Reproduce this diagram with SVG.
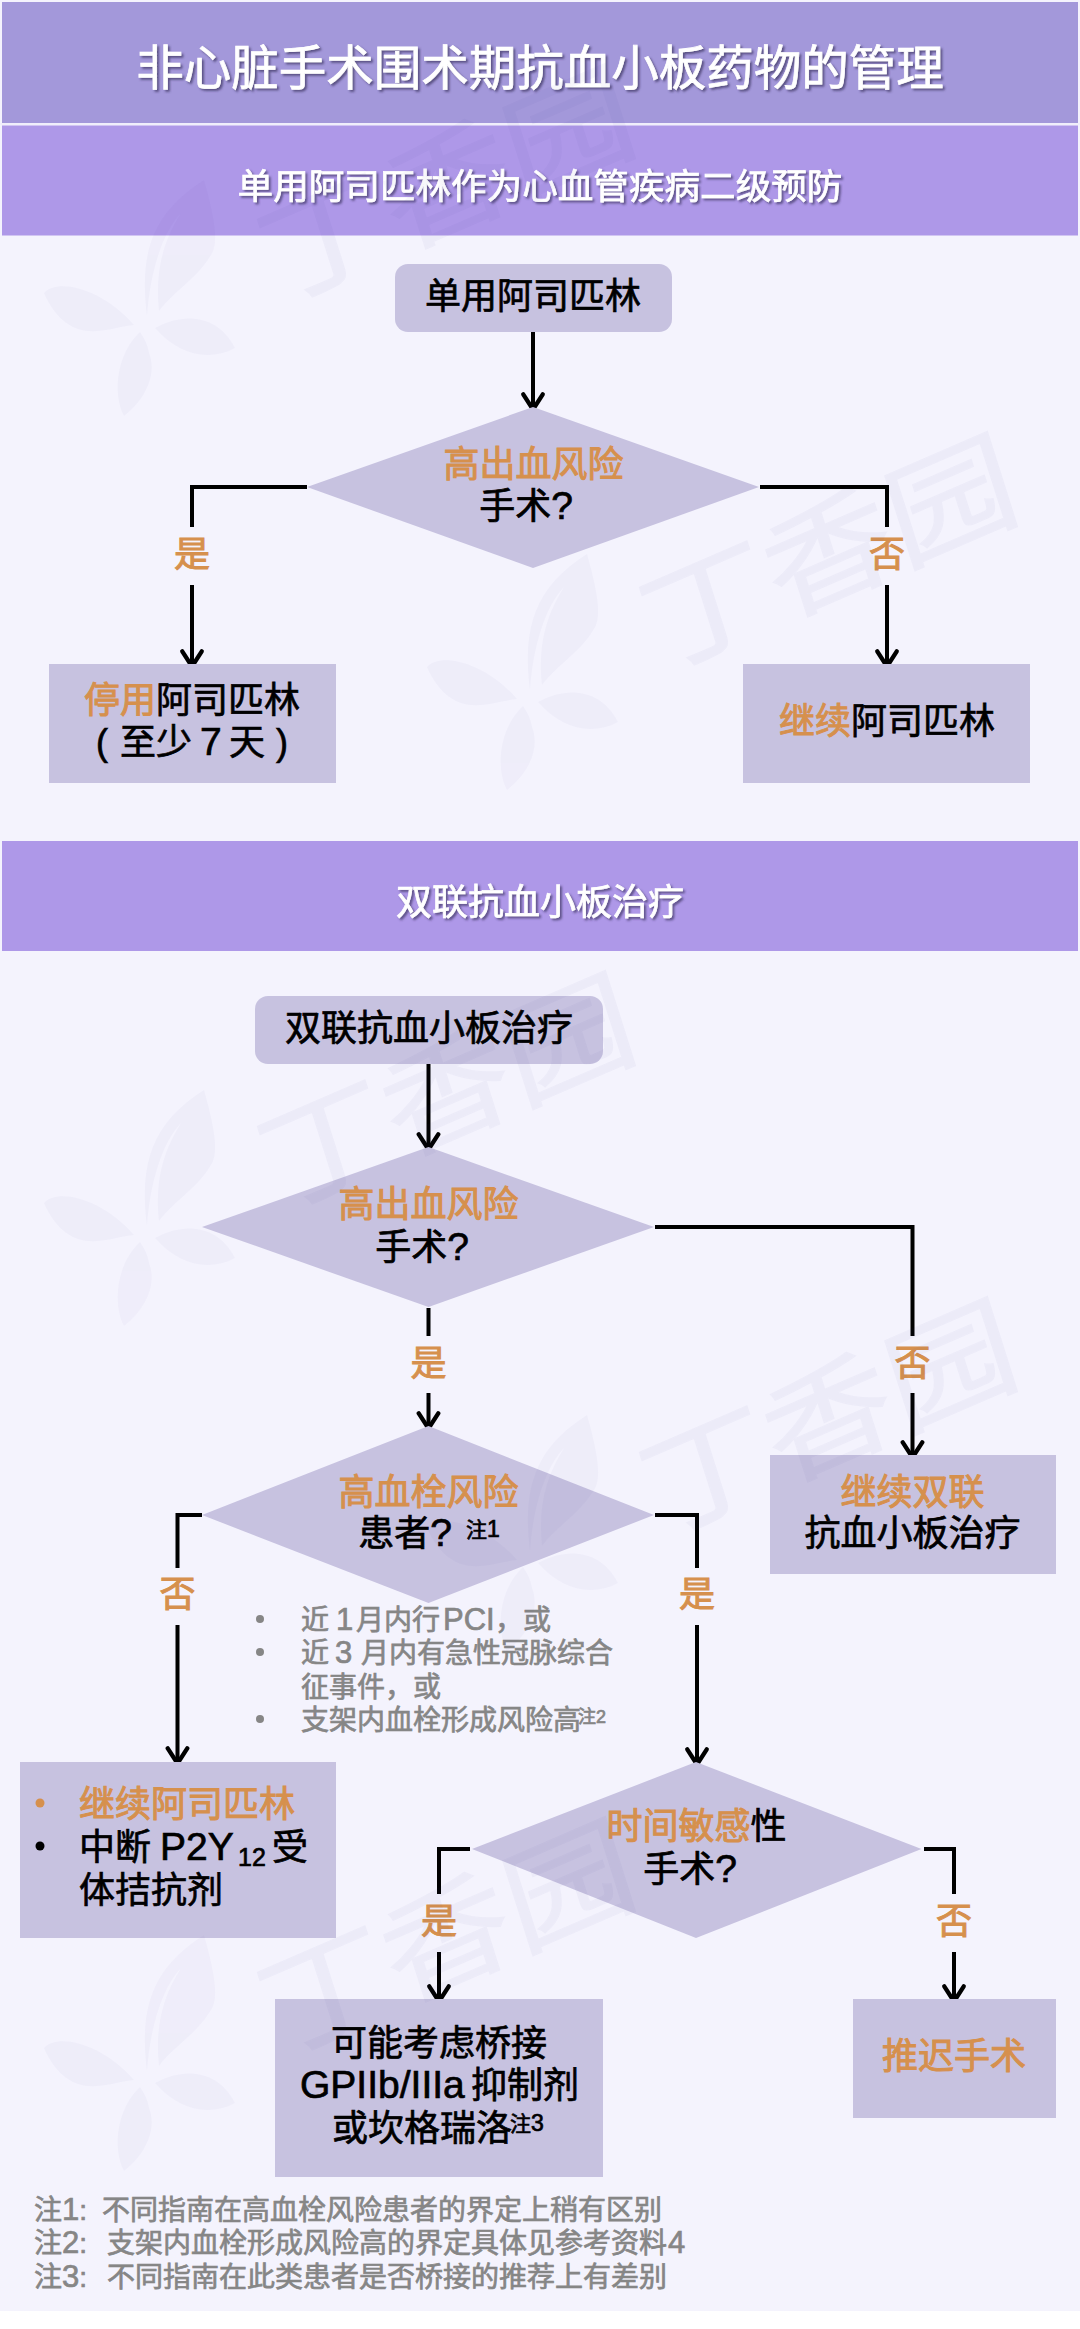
<svg xmlns="http://www.w3.org/2000/svg" width="1080" height="2329" viewBox="0 0 1080 2329">
<style>
text{font-family:"Liberation Sans","Noto Sans CJK SC",sans-serif;font-size:36px;fill:#000;stroke:#000;stroke-width:.7px}
.c{text-anchor:middle}
.o,.o tspan{fill:#d6904d;stroke:#d6904d;stroke-width:1px}
.w{fill:#fff;stroke:#fff;filter:url(#sh)}
.g{fill:#868686;stroke:#868686;font-size:28px}
.n{fill:#c7c2e0}
.s{font-size:21px}
.lat{font-size:39px}
.gl{font-size:31px}
.cn{fill:none;stroke:#000;stroke-width:4}
.ar{marker-end:url(#ah)}
.wm{fill:#3a3590;opacity:.028}
text.wmt{font-family:"Noto Sans CJK SC",sans-serif;font-size:133px;fill:#3a3590;stroke:#3a3590;stroke-width:1.500px;opacity:.035}
</style>
<defs>
<filter id="sh" x="-5%" y="-20%" width="110%" height="150%"><feDropShadow dx="2" dy="2" stdDeviation="1.2" flood-color="#3c3460" flood-opacity=".7"/></filter>
<marker id="ah" markerUnits="userSpaceOnUse" markerWidth="26" markerHeight="26" viewBox="0 0 24 24" refX="15.7" refY="12" orient="auto"><path d="M4,3 L18,12 L4,21" fill="none" stroke="#000" stroke-width="4" stroke-linecap="round"/></marker>
<g id="flower">
<path d="M0,-7 C-8,-70 5,-110 57,-143 C72,-90 70,-75 62,-65 C50,-45 25,-30 12,-12 C8,-50 15,-80 34,-110 C15,-90 3,-50 0,-7Z"/>
<path d="M-13,2 C-45,-35 -90,-45 -103,-30 C-90,0 -70,10 -50,8 C-35,7 -25,3 -13,2Z"/>
<path d="M8,5 C35,-10 70,-10 88,25 C60,40 30,30 8,5Z"/>
<path d="M-7,9 C-30,30 -35,70 -23,93 C0,75 10,50 2,30 C0,20 -3,15 -7,9Z"/>
</g>
</defs>
<rect width="1080" height="2329" fill="#fff"/>
<rect x="0" y="0" width="1080" height="2311" fill="#f4f3fd"/>
<g id="band-title"><rect x="2" y="2" width="1076" height="121" fill="#a398da"/><rect x="0" y="123" width="1080" height="2" fill="#f0eefb"/><text class="c w" x="540" y="85" style="font-size:47.500px">非心脏手术围术期抗血小板药物的管理</text></g>
<g id="band-aspirin"><rect x="2" y="125.500" width="1076" height="110" fill="#ae98e8"/><text class="c w" x="540" y="199" style="font-size:35.600px">单用阿司匹林作为心血管疾病二级预防</text></g>
<g id="band-dapt"><rect x="2" y="841" width="1076" height="110" fill="#ae98e8"/><text class="c w" x="540" y="915">双联抗血小板治疗</text></g>

<g id="connectors">
<path class="cn ar" d="M533,332V407"/>
<path class="cn" d="M307,487H192V527"/><path class="cn ar" d="M192,585V664"/>
<path class="cn" d="M760,487H887V527"/><path class="cn ar" d="M887,585V664"/>
<text class="c o" x="192" y="567">是</text><text class="c o" x="887" y="567">否</text>
<path class="cn ar" d="M428.500,1064V1147"/>
<path class="cn" d="M655,1227H912.500V1336"/><path class="cn ar" d="M912.500,1393V1455"/>
<path class="cn" d="M428.500,1308V1336"/><path class="cn ar" d="M428.500,1393V1426"/>
<text class="c o" x="428.500" y="1376">是</text><text class="c o" x="912.500" y="1376">否</text>
<path class="cn" d="M202,1515H177.500V1568"/><path class="cn ar" d="M177.500,1625V1761"/>
<path class="cn" d="M655,1515H697V1568"/><path class="cn ar" d="M697,1625V1762"/>
<text class="c o" x="177.500" y="1607">否</text><text class="c o" x="697" y="1607">是</text>
<path class="cn" d="M470,1849H439V1894"/><path class="cn ar" d="M439,1952V1999"/>
<path class="cn" d="M924,1849H954V1894"/><path class="cn ar" d="M954,1952V1999"/>
<text class="c o" x="439" y="1934">是</text><text class="c o" x="954" y="1934">否</text>
</g>

<g id="n-start1"><rect class="n" x="395" y="264" width="277" height="68" rx="13"/><text class="c" x="533" y="309">单用阿司匹林</text></g>
<g id="n-dec1"><polygon class="n" points="533,407 759,487 533,568 307,487"/><text class="c o" x="533.500" y="477">高出血风险</text><text class="c" x="526" y="519">手术<tspan class="lat">?</tspan></text></g>
<g id="n-stop"><rect class="n" x="49" y="664" width="287" height="119"/><text class="c" x="192" y="713"><tspan class="o">停用</tspan>阿司匹林</text><text x="96" y="755">(<tspan x="120">至少</tspan><tspan x="200" class="lat">7</tspan><tspan x="229">天</tspan><tspan x="276">)</tspan></text></g>
<g id="n-cont"><rect class="n" x="743" y="664" width="287" height="119"/><text class="c" x="887" y="734"><tspan class="o">继续</tspan>阿司匹林</text></g>
<g id="n-start2"><rect class="n" x="255" y="996" width="348" height="68" rx="13"/><text class="c" x="429" y="1041">双联抗血小板治疗</text></g>
<g id="n-dec2"><polygon class="n" points="428.500,1147 654,1227 428.500,1307 202,1227"/><text class="c o" x="428.500" y="1217">高出血风险</text><text class="c" x="422" y="1260">手术<tspan class="lat">?</tspan></text></g>
<g id="n-dapt"><rect class="n" x="770" y="1455" width="286" height="119"/><text class="c o" x="912.500" y="1505">继续双联</text><text class="c" x="912.500" y="1546">抗血小板治疗</text></g>
<g id="n-dec3"><polygon class="n" points="428.500,1426 654,1515 428.500,1603 202,1515"/><text class="c o" x="428.500" y="1505">高血栓风险</text><text class="c" x="405" y="1546">患者<tspan class="lat">?</tspan></text><text class="s" x="466" y="1537">注<tspan font-size="23">1</tspan></text></g>
<g id="n-notes">
<circle cx="260" cy="1619" r="4" fill="#868686"/><circle cx="260" cy="1652" r="4" fill="#868686"/><circle cx="260" cy="1719" r="4" fill="#868686"/>
<text class="g" x="301" y="1630">近<tspan x="336" class="gl">1</tspan><tspan x="356">月内行</tspan><tspan x="443" class="gl">PCI</tspan><tspan x="495">，或</tspan></text>
<text class="g" x="301" y="1663">近<tspan x="335" class="gl">3</tspan><tspan x="361">月内有急性冠脉综合</tspan></text>
<text class="g" x="301" y="1697">征事件，或</text>
<text class="g" x="301" y="1730">支架内血栓形成风险高<tspan x="578" y="1723" font-size="18">注2</tspan></text>
</g>
<g id="n-hold"><rect class="n" x="20" y="1762" width="316" height="176"/>
<circle cx="40" cy="1803" r="4.500" fill="#d6904d"/><circle cx="40" cy="1846" r="4.500" fill="#000"/>
<text class="o" x="79" y="1817">继续阿司匹林</text>
<text x="79" y="1860">中断<tspan x="160" class="lat">P2Y</tspan><tspan x="238" y="1866" font-size="25">12</tspan><tspan x="272" y="1860">受</tspan></text>
<text x="79" y="1903">体拮抗剂</text></g>
<g id="n-dec4"><polygon class="n" points="696,1762 921.500,1849 696,1938 472,1849"/><text class="c" x="696.500" y="1839"><tspan class="o">时间敏感</tspan>性</text><text class="c" x="690" y="1882">手术<tspan class="lat">?</tspan></text></g>
<g id="n-bridge"><rect class="n" x="275" y="1999" width="328" height="178"/><text class="c" x="439" y="2056">可能考虑桥接</text><text x="300" y="2098"><tspan class="lat">GPIIb/IIIa</tspan><tspan x="471">抑制剂</tspan></text><text x="332" y="2141">或坎格瑞洛</text><text class="s" x="510" y="2131">注<tspan font-size="23">3</tspan></text></g>
<g id="n-delay"><rect class="n" x="853" y="1999" width="203" height="119"/><text class="c o" x="954" y="2069">推迟手术</text></g>
<g id="footnotes">
<text class="g" x="34" y="2220">注<tspan class="gl">1</tspan>:<tspan x="102">不同指南在高血栓风险患者的界定上稍有区别</tspan></text>
<text class="g" x="34" y="2253">注<tspan class="gl">2</tspan>:<tspan x="107">支架内血栓形成风险高的界定具体见参考资料</tspan><tspan x="668" class="gl">4</tspan></text>
<text class="g" x="34" y="2287">注<tspan class="gl">3</tspan>:<tspan x="107">不同指南在此类患者是否桥接的推荐上有差别</tspan></text>
</g>

<g id="watermark">
<use href="#flower" class="wm" x="147" y="323"/><use href="#flower" class="wm" x="530" y="697"/><use href="#flower" class="wm" x="147" y="1233"/><use href="#flower" class="wm" x="530" y="1558"/><use href="#flower" class="wm" x="147" y="2078"/>
<text class="wmt" transform="matrix(.918 -.397 .26 .82 276 304)">丁香园</text>
<text class="wmt" transform="matrix(.918 -.397 .26 .82 658 672)">丁香园</text>
<text class="wmt" transform="matrix(.918 -.397 .26 .82 276 1211)">丁香园</text>
<text class="wmt" transform="matrix(.918 -.397 .26 .82 658 1537)">丁香园</text>
<text class="wmt" transform="matrix(.918 -.397 .26 .82 276 2057)">丁香园</text>
</g>
</svg>
